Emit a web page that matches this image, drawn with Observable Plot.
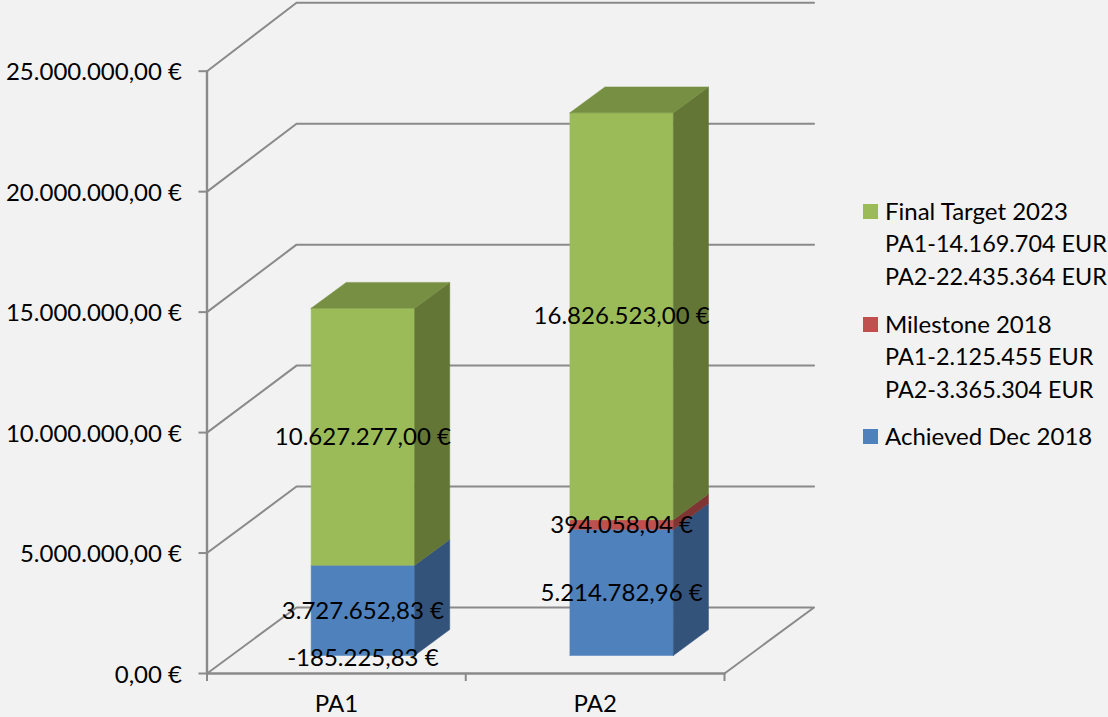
<!DOCTYPE html>
<html>
<head>
<meta charset="utf-8">
<script src="https://cdn.jsdelivr.net/npm/d3@7"></script>
<script src="https://cdn.jsdelivr.net/npm/@observablehq/plot@0.6"></script>
<style>
html,body{margin:0;padding:0;background:#f2f2f2;overflow:hidden}
#wrap{position:relative;width:1108px;height:717px;font-family:Lato,sans-serif;color:#000}
#wrap svg{display:block;position:absolute;left:0;top:0}
.lg{position:absolute;left:885px;line-height:33px;height:33px;white-space:nowrap;transform:translateY(-50%)}
.sw{position:absolute;left:863px;width:15px;height:15px}
</style>
</head>
<body>
<div id="wrap"></div>
<script>
// chart values
const categories = ["PA1", "PA2"];
const achieved  = [3727652.83, 5214782.96];
const milestone = [-185225.83, 394058.04];
const finalTarget = [10627277.00, 16826523.00];
const yTicks = [0, 5e6, 10e6, 15e6, 20e6, 25e6];
const xTicks = [0, 1, 2];
const seriesNames = ["Achieved Dec 2018", "Milestone 2018", "Final Target 2023"];
const seriesValues = [achieved, milestone, finalTarget];
const faceColors = [
  {front:"#4f81bd", side:"#34537a", top:"#3f6797"},
  {front:"#c0504d", side:"#7f3533", top:"#9a403e"},
  {front:"#9bbb59", side:"#637636", top:"#768f42"}
];
const legendGroups = [
  {color:"#9bbb59", lines:["Final Target 2023","PA1-14.169.704 EUR","PA2-22.435.364 EUR"], y:211},
  {color:"#c0504d", lines:["Milestone 2018","PA1-2.125.455 EUR","PA2-3.365.304 EUR"], y:324},
  {color:"#4f81bd", lines:["Achieved Dec 2018"], y:436}
];

// oblique projection: depth 0 = front wall, depth 1 = back wall
const depthX = 0.346;      // x units per full depth
const depthY = 2.74e6;     // euro units per full depth
const stretch = 1.004;
const barD0 = 0.273, barD1 = 0.665;
const barHalf = 0.2, barShift = 0.008;
const P = (xu, d, v) => ({x: xu + d * depthX, y: (d > 0 ? v * stretch : v) + d * depthY});

const loc = d3.formatLocale({decimal:",", thousands:".", grouping:[3], currency:["",""], minus:"-"});
const fmt0 = loc.format(",.2f");
const fmt = v => fmt0(v) + " €";

const GRID = "#8a8a8a";
const FS = 24;
const marks = [];
const seg = (pts, sw = 2) => Plot.line(pts, {x:"x", y:"y", stroke:GRID, strokeWidth:sw, curve:"linear"});

// wall grid lines
yTicks.forEach(v => {
  if (v === 0) return;
  marks.push(seg([P(0,0,v), P(0,1,v), P(2,1,v)]));
});
// floor
marks.push(seg([P(0,0,0), P(0,1,0), P(2,1,0), P(2,0,0)]));
marks.push(seg([P(0,0,0), P(2,0,0)], 2.4));
marks.push(seg([P(0,0,0), P(0,0,25e6)], 2.4));

// stacked bars as faces
const labels = [];
categories.forEach((c, i) => {
  const xc = i + 0.5 + barShift;
  const xl = xc - barHalf, xr = xc + barHalf;
  let pos = 0, neg = 0;
  let lastTop = null;
  seriesValues.forEach((vals, s) => {
    const v = vals[i];
    let lo, hi;
    if (v >= 0) { lo = pos; hi = pos + v; pos = hi; }
    else { hi = neg; lo = neg + v; neg = lo; }
    labels.push({text: fmt(v), ...P(xc, barD0, (lo + hi) / 2)});
    if (v < 0) return;
    const col = faceColors[s];
    const poly = (pts, fill) => marks.push(Plot.line(pts, {x:"x", y:"y", fill, stroke:fill, strokeWidth:0.5, curve:"linear"}));
    poly([P(xl,barD0,lo), P(xr,barD0,lo), P(xr,barD0,hi), P(xl,barD0,hi), P(xl,barD0,lo)], col.front);
    poly([P(xr,barD0,lo), P(xr,barD1,lo), P(xr,barD1,hi), P(xr,barD0,hi), P(xr,barD0,lo)], col.side);
    lastTop = {hi, col};
  });
  const t = lastTop;
  marks.push(Plot.line([P(xl,barD0,t.hi), P(xr,barD0,t.hi), P(xr,barD1,t.hi), P(xl,barD1,t.hi), P(xl,barD0,t.hi)],
    {x:"x", y:"y", fill:t.col.top, stroke:t.col.top, strokeWidth:0.5, curve:"linear"}));
});

const chart = Plot.plot({
  width: 1108, height: 717,
  marginLeft: 206.5, marginRight: 384, marginTop: 70.7, marginBottom: 44,
  x: {domain:[0,2]},
  y: {domain:[0,25e6]},
  style: {background:"transparent", fontFamily:"Lato,sans-serif", color:"#000"},
  marks: [
    ...marks,
    Plot.text(labels, {x:"x", y:"y", text:"text", fontSize:FS, fill:"#000", textAnchor:"middle", dy:0.5}),
    Plot.axisY({ticks:yTicks, tickFormat:()=>"", tickSize:8, label:null, stroke:GRID, strokeWidth:2}),
    Plot.axisY({ticks:yTicks, tickFormat:fmt, tickSize:0, tickPadding:25, fontSize:FS, label:null, fill:"#000", dy:1.5}),
    Plot.axisX({ticks:xTicks, tickFormat:()=>"", tickSize:8, label:null, stroke:GRID, strokeWidth:2}),
    Plot.axisX({ticks:[0.5,1.5], tickFormat:d=>categories[Math.floor(d)], tickSize:0, tickPadding:21, fontSize:FS, label:null, fill:"#000"})
  ]
});
const wrap = document.getElementById("wrap");
wrap.appendChild(chart);

// legend
legendGroups.forEach(g => {
  const sw = document.createElement("div");
  sw.className = "sw"; sw.style.background = g.color; sw.style.top = (g.y - 7) + "px";
  wrap.appendChild(sw);
  g.lines.forEach((t, k) => {
    const d = document.createElement("div");
    d.className = "lg"; d.textContent = t;
    d.style.top = (g.y - 1 + k * 33) + "px";
    d.style.fontSize = (k === 0 ? 24 : 23.4) + "px";
    wrap.appendChild(d);
  });
});
</script>
</body>
</html>
